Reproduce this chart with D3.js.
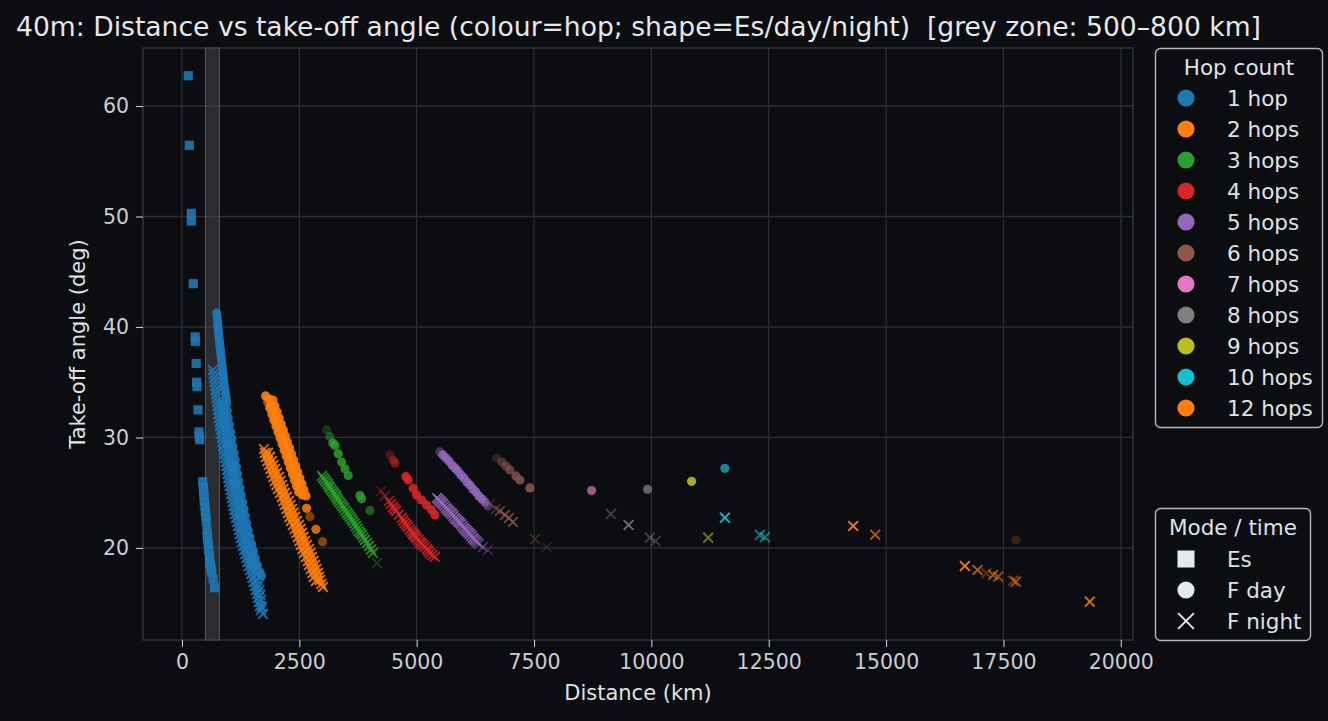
<!DOCTYPE html>
<html><head><meta charset="utf-8">
<script src="https://cdn.jsdelivr.net/npm/d3@7"></script>
<style>body{margin:0;background:#0c0d10;} svg{display:block;font-family:"DejaVu Sans",sans-serif;}</style>
</head><body><svg id="chart" width="1328" height="721"></svg>
<script>
// ---------- data ----------
const hopValues = [1,2,3,4,5,6,7,8,9,10,12];
const hopLabels = ["1 hop","2 hops","3 hops","4 hops","5 hops","6 hops","7 hops","8 hops","9 hops","10 hops","12 hops"];
const hopColours = ["#1f77b4","#ff7f0e","#2ca02c","#d62728","#9467bd","#8c564b","#e377c2","#7f7f7f","#bcbd22","#17becf","#ff7f0e"];
const modeLabels = ["Es","F day","F night"];
const xTicks = [0,2500,5000,7500,10000,12500,15000,17500,20000];
const yTicks = [20,30,40,50,60];
const greyZone = [500,800];

// [hop, distance km, take-off angle deg, weight]
const esPoints = [
[1,134,62.74,.9],[1,156,56.44,.9],[1,199,50.29,.9],[1,199,49.6,.9],[1,241,43.92,.9],[1,282,39.1,.9],[1,284,38.7,.9],[1,303,36.7,.9],[1,311,35.0,.9],[1,320,34.6,.9],[1,341,32.5,.9],[1,362,30.5,.9],[1,370,30.1,.9],[1,377,29.8,.9],
[1,441,26.0,.9],[1,455,25.5,.9],[1,462,25.1,.9],[1,469,24.7,.9],[1,476,24.2,.9],[1,490,23.8,.9],[1,497,23.3,.9],[1,511,22.9,.9],[1,518,22.4,.9],[1,533,21.6,.9],[1,540,21.1,.9],[1,547,20.7,.9],[1,562,20.3,.9],[1,569,19.8,.9],[1,583,19.3,.9],[1,590,19.0,.9],[1,605,18.6,.9],[1,619,18.1,.9],[1,633,17.8,.9],[1,662,17.2,.9],[1,696,16.4,.9]
];

const fDayPoints = [
// 1 hop
[1,739,41.27,.9],[1,756,40.63,.9],[1,767,40.0,.9],[1,782,39.37,.9],[1,799,38.73,.9],[1,814,38.1,.9],[1,831,37.47,.9],[1,846,36.83,.9],[1,863,36.2,.9],[1,880,35.57,.9],[1,895,34.93,.9],[1,916,34.3,.9],[1,937,33.67,.9],[1,948,33.03,.9],[1,963,32.4,.9],[1,986,31.76,.9],[1,1012,31.13,.9],[1,1037,30.5,.9],[1,1065,29.86,.9],[1,1086,29.23,.9],[1,1112,28.6,.9],[1,1135,27.96,.9],[1,1161,27.33,.9],[1,1182,26.7,.9],[1,1208,26.06,.9],[1,1235,25.43,.9],[1,1263,24.8,.9],[1,1293,24.16,.9],[1,1321,23.53,.9],[1,1348,22.9,.9],[1,1378,22.26,.9],[1,1412,21.63,.9],[1,1448,21.0,.9],[1,1485,20.36,.9],[1,1523,19.73,.9],[1,1561,19.1,.9],[1,1608,18.46,.9],[1,1661,17.83,.9],[1,1693,17.47,.9],
[1,748,40.95,.9],[1,761,40.32,.9],[1,774,39.68,.9],[1,790,39.05,.9],[1,806,38.42,.9],[1,822,37.78,.9],[1,838,37.15,.9],[1,854,36.52,.9],[1,871,35.88,.9],[1,887,35.25,.9],[1,905,34.62,.9],[1,927,33.98,.9],[1,943,33.35,.9],
[1,831,33.03,.9],[1,852,32.4,.9],[1,873,31.76,.9],[1,895,31.13,.9],[1,916,30.5,.9],[1,937,29.86,.9],[1,965,29.23,.9],[1,990,28.6,.9],[1,1012,27.96,.9],[1,1037,27.33,.9],[1,1065,26.7,.9],[1,1086,26.06,.9],[1,1112,25.43,.9],[1,1140,24.8,.9],[1,1172,24.16,.9],[1,1199,23.53,.9],[1,1229,22.9,.9],[1,1257,22.26,.9],[1,1289,21.63,.9],[1,1321,21.0,.9],[1,1357,20.36,.9],[1,1395,19.73,.9],[1,1438,19.1,.9],[1,1480,18.46,.9],
[1,882,32.71,.9],[1,900,32.08,.9],[1,924,31.45,.9],[1,950,30.81,.9],[1,977,30.18,.9],[1,1001,29.55,.9],[1,1025,28.91,.9],[1,1049,28.28,.9],[1,1074,27.65,.9],[1,1097,27.01,.9],[1,1120,26.38,.9],[1,1147,25.75,.9],[1,1175,25.11,.9],[1,1203,24.48,.9],[1,1232,23.85,.9],[1,1260,23.21,.9],[1,1289,22.58,.9],[1,1321,21.95,.9],[1,1356,21.31,.9],[1,1392,20.68,.9],[1,1429,20.05,.9],[1,1468,19.41,.9],[1,1510,18.78,.9],[1,1560,18.14,.9],
// 2 hops
[2,1781,33.76,.9],[2,1825,33.21,.6],[2,1870,32.67,.9],[2,1913,32.13,.9],[2,1957,31.58,.9],[2,2002,31.04,.9],[2,2045,30.5,.9],[2,2090,29.95,.9],[2,2134,29.41,.9],[2,2177,28.87,.9],[2,2222,28.33,.9],[2,2264,27.78,.9],[2,2309,27.24,.9],[2,2354,26.7,.9],[2,2396,26.15,.9],[2,2441,25.61,.9],[2,2486,25.07,.9],
[2,1853,33.48,.9],[2,1896,32.94,.9],[2,1949,32.4,.9],[2,1992,31.86,.9],[2,2036,31.31,.9],[2,2081,30.77,.9],[2,2124,30.23,.9],[2,2168,29.68,.9],[2,2211,29.14,.9],[2,2256,28.6,.9],[2,2300,28.05,.9],[2,2343,27.51,.9],[2,2388,26.97,.9],[2,2433,26.43,.9],[2,2475,25.88,.9],[2,2520,25.34,.9],[2,2565,24.8,.9],
[2,1938,33.39,.9],[2,1981,32.85,.9],[2,2028,32.31,.9],[2,2070,31.76,.9],[2,2115,31.22,.9],[2,2160,30.68,.9],[2,2202,30.14,.9],[2,2247,29.59,.9],[2,2292,29.05,.9],[2,2334,28.51,.9],[2,2379,27.96,.9],[2,2424,27.42,.9],[2,2466,26.88,.9],[2,2511,26.33,.9],[2,2556,25.79,.9],[2,2599,25.25,.9],[2,2643,24.71,.9],
[2,2656,23.59,.85],[2,2727,22.83,.45],[2,2854,21.69,.8],[2,2997,20.57,.5],
// 3 hops
[3,3082,30.68,.3],[3,3152,30.07,.5],[3,3216,29.5,.85],[3,3259,29.28,.85],[3,3329,28.53,.85],[3,3402,27.77,.85],[3,3472,27.17,.85],[3,3542,26.56,.85],[3,3791,24.75,.85],[3,3827,24.45,.8],[3,4004,23.39,.55],
// 4 hops
[4,4430,28.42,.3],[4,4501,27.96,.4],[4,4537,27.7,.5],[4,4771,26.45,.9],[4,4820,26.15,.9],[4,4927,25.4,.9],[4,4999,24.8,.9],[4,5106,24.34,.9],[4,5212,23.89,.9],[4,5318,23.44,.9],[4,5389,22.99,.9],
// 5 hops
[5,5495,28.69,.45],[5,5559,28.42,.85],[5,5623,28.14,.85],[5,5687,27.87,.85],[5,5751,27.51,.85],[5,5815,27.24,.85],[5,5879,26.97,.85],[5,5943,26.61,.85],[5,6007,26.33,.85],[5,6071,25.97,.85],[5,6134,25.7,.85],[5,6198,25.34,.85],[5,6262,25.07,.85],[5,6326,24.71,.85],[5,6390,24.43,.85],[5,6454,24.16,.7],[5,6518,23.8,.45],
// 6 hops
[6,6703,28.12,.3],[6,6816,27.78,.5],[6,6901,27.42,.6],[6,6986,27.06,.7],[6,7114,26.52,.8],[6,7199,26.15,.85],[6,7412,25.43,.9],
// 7-12 hops
[7,8726,25.19,.7],[8,9919,25.31,.75],[9,10856,26.03,.9],[10,11566,27.21,.7],[12,17764,20.72,.2]
];

const fNightPoints = [
// 1 hop
[1,660,36.11,.9],[1,682,35.38,.9],[1,703,34.66,.9],[1,724,33.94,.9],[1,746,33.21,.9],[1,767,32.49,.9],[1,788,31.76,.9],[1,809,31.04,.9],[1,837,30.32,.9],[1,863,29.59,.9],[1,888,28.87,.9],[1,916,28.14,.9],[1,944,27.42,.9],[1,973,26.7,.9],[1,1001,25.97,.9],[1,1033,25.25,.9],[1,1065,24.52,.9],[1,1097,23.8,.9],[1,1129,23.08,.9],[1,1172,22.35,.9],[1,1214,21.63,.9],[1,1257,20.9,.9],[1,1299,20.18,.9],[1,1348,19.46,.9],[1,1395,18.73,.9],[1,1448,18.01,.9],[1,1502,17.29,.9],[1,1555,16.56,.9],[1,1598,15.84,.9],[1,1640,15.11,.9],[1,1683,14.39,.9],
[1,671,35.75,.9],[1,692,35.02,.9],[1,714,34.3,.9],[1,735,33.57,.9],[1,756,32.85,.9],[1,777,32.13,.9],[1,799,31.4,.9],[1,823,30.68,.9],[1,850,29.95,.9],[1,875,29.23,.9],[1,902,28.51,.9],[1,930,27.78,.9],[1,959,27.06,.9],[1,987,26.33,.9],[1,1017,25.61,.9],[1,1049,24.89,.9],[1,1081,24.16,.9],[1,1113,23.44,.9],[1,1150,22.71,.9],[1,1193,21.99,.9],[1,1235,21.27,.9],[1,1278,20.54,.9],[1,1324,19.82,.9],[1,1372,19.1,.9],[1,1422,18.37,.9],[1,1475,17.65,.9],[1,1528,16.92,.9],[1,1576,16.2,.9],[1,1619,15.48,.9],[1,1661,14.75,.9],
[1,980,28.87,.9],[1,1022,27.96,.9],[1,1065,27.06,.9],[1,1108,26.15,.9],[1,1150,25.25,.9],[1,1193,24.34,.9],[1,1246,23.44,.9],[1,1299,22.53,.9],[1,1353,21.63,.9],[1,1406,20.72,.9],[1,1459,19.82,.9],[1,1512,18.91,.9],[1,1566,18.01,.9],[1,1608,17.1,.9],[1,1651,16.2,.9],[1,1683,15.29,.9],[1,1725,14.03,.9],
[1,1001,28.42,.9],[1,1044,27.51,.9],[1,1086,26.61,.9],[1,1129,25.7,.9],[1,1177,24.8,.9],[1,1220,23.89,.9],[1,1273,22.99,.9],[1,1326,22.08,.9],[1,1379,21.18,.9],[1,1432,20.27,.9],[1,1486,19.37,.9],[1,1539,18.46,.9],[1,1587,17.56,.9],[1,1629,16.65,.9],[1,1667,15.75,.9],[1,1704,14.66,.9],
// 2 hops
[2,1747,28.96,.8],[2,1789,28.24,.9],[2,1853,27.51,.9],[2,1917,26.79,.9],[2,1981,26.06,.9],[2,2045,25.34,.9],[2,2130,24.62,.9],[2,2193,23.89,.9],[2,2257,23.17,.9],[2,2322,22.44,.9],[2,2407,21.72,.9],[2,2471,21.0,.9],[2,2535,20.27,.9],[2,2599,19.55,.9],[2,2684,18.82,.9],[2,2748,18.1,.9],[2,2812,17.38,.9],
[2,1768,28.6,.9],[2,1821,27.87,.9],[2,1885,27.15,.9],[2,1949,26.43,.9],[2,2013,25.7,.9],[2,2087,24.98,.9],[2,2162,24.25,.9],[2,2226,23.53,.9],[2,2290,22.81,.9],[2,2364,22.08,.9],[2,2439,21.36,.9],[2,2503,20.63,.9],[2,2567,19.91,.9],[2,2641,19.19,.9],[2,2705,18.46,.9],[2,2780,17.74,.9],[2,2854,17.01,.9],
[2,1832,28.6,.9],[2,1917,27.87,.9],[2,1981,27.15,.9],[2,2066,26.43,.9],[2,2130,25.7,.9],[2,2193,24.98,.9],[2,2279,24.25,.9],[2,2343,23.53,.9],[2,2407,22.81,.9],[2,2492,22.08,.9],[2,2556,21.36,.9],[2,2620,20.63,.9],[2,2705,19.91,.9],[2,2769,19.19,.9],[2,2833,18.46,.9],[2,2897,17.74,.9],[2,2939,17.1,.9],[2,3003,16.47,.9],
[2,1874,28.24,.9],[2,1949,27.51,.9],[2,2024,26.79,.9],[2,2098,26.06,.9],[2,2162,25.34,.9],[2,2237,24.62,.9],[2,2311,23.89,.9],[2,2375,23.17,.9],[2,2450,22.44,.9],[2,2524,21.72,.9],[2,2588,21.0,.9],[2,2663,20.27,.9],[2,2737,19.55,.9],[2,2801,18.82,.9],[2,2865,18.1,.9],[2,2918,17.38,.9],[2,2971,16.74,.9],
// 3 hops
[3,2982,26.52,.7],[3,3046,26.15,.85],[3,3110,25.79,.85],[3,3152,25.43,.85],[3,3216,25.07,.85],[3,3280,24.71,.85],[3,3323,24.34,.85],[3,3387,23.98,.85],[3,3451,23.62,.85],[3,3515,23.17,.85],[3,3578,22.81,.85],[3,3642,22.44,.85],[3,3706,21.99,.85],[3,3770,21.54,.85],[3,3834,21.18,.85],[3,3898,20.72,.85],[3,3983,20.18,.85],[3,4068,19.55,.8],[3,4154,18.64,.35],
[3,3014,26.33,.85],[3,3078,25.97,.85],[3,3131,25.61,.85],[3,3184,25.25,.85],[3,3248,24.89,.85],[3,3301,24.52,.85],[3,3355,24.16,.85],[3,3419,23.8,.85],[3,3483,23.39,.85],[3,3546,22.99,.85],[3,3610,22.62,.85],[3,3674,22.22,.85],[3,3738,21.76,.85],[3,3802,21.36,.85],[3,3866,20.95,.85],[3,3941,20.45,.85],[3,4026,19.86,.85],
// 4 hops
[4,4239,25.16,.3],[4,4324,24.71,.45],[4,4409,24.25,.7],[4,4494,23.71,.85],[4,4558,23.35,.85],[4,4686,22.71,.85],[4,4750,22.26,.85],[4,4814,21.9,.85],[4,4893,21.48,.85],[4,4942,21.18,.85],[4,4999,20.88,.85],[4,5069,20.54,.85],[4,5140,20.27,.85],[4,5219,19.91,.85],[4,5282,19.52,.85],[4,5389,19.21,.85],
[4,4452,23.98,.8],[4,4526,23.53,.85],[4,4622,23.03,.85],[4,4718,22.49,.85],[4,4782,22.08,.85],[4,4856,21.67,.85],[4,4920,21.31,.85],[4,4974,21.04,.85],[4,5037,20.72,.85],[4,5101,20.41,.85],[4,5176,20.09,.85],[4,5251,19.73,.85],[4,5336,19.37,.85],
// 5 hops
[5,5432,24.52,.85],[5,5495,24.25,.85],[5,5559,23.98,.85],[5,5623,23.62,.85],[5,5687,23.35,.85],[5,5751,23.08,.85],[5,5815,22.71,.85],[5,5879,22.44,.85],[5,5943,22.17,.85],[5,6007,21.81,.85],[5,6071,21.54,.85],[5,6134,21.27,.85],[5,6198,20.9,.85],[5,6262,20.63,.75],[5,6326,20.36,.5],[5,6411,20.09,.4],[5,6518,19.82,.3],
[5,5464,24.39,.85],[5,5527,24.12,.85],[5,5591,23.8,.85],[5,5655,23.48,.85],[5,5719,23.21,.85],[5,5783,22.9,.85],[5,5847,22.58,.85],[5,5911,22.31,.85],[5,5975,21.99,.85],[5,6039,21.67,.85],[5,6102,21.4,.85],[5,6166,21.09,.85],[5,6230,20.77,.8],[5,6294,20.5,.6],
// 6 hops
[6,6560,23.98,.3],[6,6688,23.53,.45],[6,6773,23.35,.7],[6,6880,22.99,.8],[6,6965,22.71,.8],[6,7050,22.35,.8],[6,7519,20.81,.4],[6,7768,20.06,.25],
// 8 hops
[8,9138,23.08,.45],[8,9514,22.08,.85],[8,9968,20.93,.45],[8,10089,20.63,.4],
// 9 hops
[9,11210,20.93,.6],
// 10 hops
[10,11566,22.74,.95],[10,12311,21.18,.6],[10,12418,20.97,.6],
// 12 hops
[12,14299,21.99,.95],[12,14768,21.2,.7],[12,16678,18.37,.95],[12,16948,18.01,.7],[12,17140,17.71,.35],[12,17281,17.56,.6],[12,17388,17.4,.55],[12,17707,17.04,.4],[12,17764,16.95,.6],[12,19340,15.14,.85]
];

// ---------- drawing ----------
const W = 1328, H = 721;
const M = {left:143, right:1133, top:48, bottom:640};
const FONT = "DejaVu Sans";
const svg = d3.select("#chart");
svg.append("rect").attr("width",W).attr("height",H).attr("fill","#0c0d10");

const x = d3.scaleLinear().domain([-830, 20260]).range([M.left, M.right]);
const y = d3.scaleLinear().domain([11.67, 65.25]).range([M.bottom, M.top]);
const colour = d3.scaleOrdinal().domain(hopValues).range(hopColours);
const alpha = d3.scaleLinear().domain([0,1]).range([0,1]);

// grid
const grid = svg.append("g");
grid.selectAll(".vg").data(xTicks).join("line")
  .attr("x1",d=>x(d)).attr("x2",d=>x(d)).attr("y1",M.top).attr("y2",M.bottom)
  .attr("stroke","#2b2e34").attr("stroke-width",1.3);
grid.selectAll(".hg").data(yTicks).join("line")
  .attr("y1",d=>y(d)).attr("y2",d=>y(d)).attr("x1",M.left).attr("x2",M.right)
  .attr("stroke","#2b2e34").attr("stroke-width",1.3);

// grey zone
svg.append("rect")
  .attr("x",x(greyZone[0])).attr("width",x(greyZone[1])-x(greyZone[0]))
  .attr("y",M.top).attr("height",M.bottom-M.top)
  .attr("fill","#4a4b50").attr("fill-opacity",0.5)
  .attr("stroke","#56575c").attr("stroke-width",1);

// points
const pts = svg.append("g");
const xPath = "M-4.9,-4.9L4.9,4.9M-4.9,4.9L4.9,-4.9";
hopValues.forEach(h => {
  pts.append("g").selectAll("rect").data(esPoints.filter(d=>d[0]===h)).join("rect")
    .attr("x",d=>x(d[1])-4.6).attr("y",d=>y(d[2])-4.6).attr("width",9.2).attr("height",9.2)
    .attr("fill",colour(h)).attr("fill-opacity",d=>alpha(d[3]));
  pts.append("g").selectAll("circle").data(fDayPoints.filter(d=>d[0]===h)).join("circle")
    .attr("cx",d=>x(d[1])).attr("cy",d=>y(d[2])).attr("r",4.6)
    .attr("fill",colour(h)).attr("fill-opacity",d=>alpha(d[3]));
  pts.append("g").selectAll("path").data(fNightPoints.filter(d=>d[0]===h)).join("path")
    .attr("transform",d=>`translate(${x(d[1])},${y(d[2])})`).attr("d",xPath)
    .attr("fill","none").attr("stroke",colour(h)).attr("stroke-width",1.9)
    .attr("stroke-opacity",d=>alpha(d[3]));
});

// spines
svg.append("rect").attr("x",M.left).attr("y",M.top).attr("width",M.right-M.left).attr("height",M.bottom-M.top)
  .attr("fill","none").attr("stroke","#3a3d43").attr("stroke-width",1.2);

// axes
const tickCol = "#c9cdd2";
const xAxis = svg.append("g").attr("transform",`translate(0,${M.bottom})`)
  .call(d3.axisBottom(x).tickValues(xTicks).tickSize(7).tickPadding(7).tickFormat(d3.format("d")));
const yAxis = svg.append("g").attr("transform",`translate(${M.left},0)`)
  .call(d3.axisLeft(y).tickValues(yTicks).tickSize(7).tickPadding(7).tickFormat(d3.format("d")));
[xAxis,yAxis].forEach(a=>{
  a.select(".domain").remove();
  a.attr("font-family",FONT).attr("font-size",20.5);
  a.selectAll("line").attr("stroke",tickCol).attr("stroke-width",1.1);
  a.selectAll("text").attr("fill",tickCol);
});

// labels
const textCol = "#dfe2e6";
svg.append("text").attr("x",16).attr("y",36).attr("font-family",FONT).attr("font-size",26.6)
  .attr("fill","#e6e8eb").text("40m: Distance vs take-off angle (colour=hop; shape=Es/day/night)  [grey zone: 500–800 km]")
  .style("white-space","pre");
svg.append("text").attr("x",(M.left+M.right)/2).attr("y",700).attr("text-anchor","middle")
  .attr("font-family",FONT).attr("font-size",21).attr("fill",textCol).text("Distance (km)");
svg.append("text").attr("transform",`translate(85,${(M.top+M.bottom)/2}) rotate(-90)`).attr("text-anchor","middle")
  .attr("font-family",FONT).attr("font-size",21).attr("fill",textCol).text("Take-off angle (deg)");

// legend 1: hops
const L1 = svg.append("g");
L1.append("rect").attr("x",1155.5).attr("y",48.5).attr("width",167).attr("height",379).attr("rx",5)
  .attr("fill","#0c0d10").attr("stroke","#b3b6ba").attr("stroke-width",1.4);
L1.append("text").attr("x",1239).attr("y",67).attr("dominant-baseline","central").attr("text-anchor","middle")
  .attr("font-family",FONT).attr("font-size",21.5).attr("fill",textCol).text("Hop count");
hopLabels.forEach((lab,i)=>{
  const yy = 98 + 31*i;
  L1.append("circle").attr("cx",1186).attr("cy",yy).attr("r",8.6).attr("fill",hopColours[i]);
  L1.append("text").attr("x",1227).attr("y",yy).attr("dominant-baseline","central")
    .attr("font-family",FONT).attr("font-size",21.5).attr("fill",textCol).text(lab);
});

// legend 2: mode
const L2 = svg.append("g");
L2.append("rect").attr("x",1155.5).attr("y",508.5).attr("width",155).attr("height",132).attr("rx",5)
  .attr("fill","#0c0d10").attr("stroke","#b3b6ba").attr("stroke-width",1.4);
L2.append("text").attr("x",1233).attr("y",527).attr("dominant-baseline","central").attr("text-anchor","middle")
  .attr("font-family",FONT).attr("font-size",21.5).attr("fill",textCol).text("Mode / time");
const mk = "#e4eaf0";
modeLabels.forEach((lab,i)=>{
  const yy = 559 + 31*i;
  if(i===0) L2.append("rect").attr("x",1186-8.5).attr("y",yy-8.5).attr("width",17).attr("height",17).attr("fill",mk);
  else if(i===1) L2.append("circle").attr("cx",1186).attr("cy",yy).attr("r",8.6).attr("fill",mk);
  else L2.append("path").attr("transform",`translate(1186,${yy}) scale(1.6)`).attr("d",xPath).attr("stroke",mk).attr("stroke-width",1.2).attr("fill","none");
  L2.append("text").attr("x",1227).attr("y",yy).attr("dominant-baseline","central")
    .attr("font-family",FONT).attr("font-size",21.5).attr("fill",textCol).text(lab);
});
</script></body></html>
